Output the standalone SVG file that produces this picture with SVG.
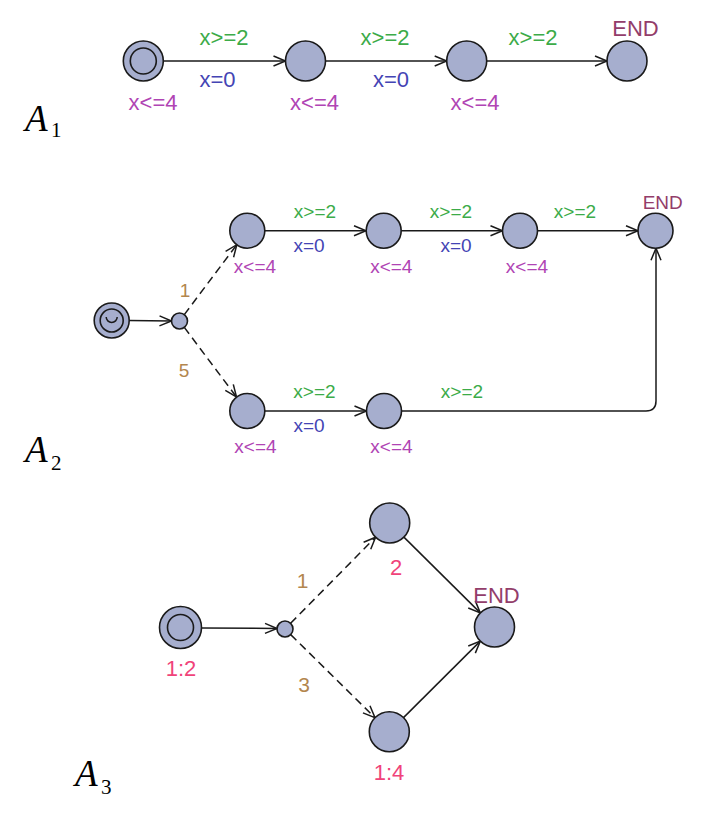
<svg xmlns="http://www.w3.org/2000/svg" width="703" height="819" viewBox="0 0 703 819">
<style>
.n{fill:#a6aece;stroke:#1a1a1a;stroke-width:1.6}
.e{fill:none;stroke:#1a1a1a;stroke-width:1.5}
.d{fill:none;stroke:#1a1a1a;stroke-width:1.5;stroke-dasharray:8 5}
text{font-family:"Liberation Sans",Arial,sans-serif;text-anchor:middle}
.g{fill:#3cab48}
.b{fill:#4444b4}
.p{fill:#b044b4}
.m{fill:#933d6a}
.t{fill:#b3864e}
.k{fill:#f0437a}
.s1{font-size:22px}
.s2{font-size:19px}
.s3{font-size:22px}
.lab{font-family:"Liberation Serif","Times New Roman",serif;text-anchor:start;fill:#000}
</style>
<defs>
<marker id="ar" markerUnits="userSpaceOnUse" markerWidth="16" markerHeight="14" refX="13" refY="6" orient="auto">
<path d="M1,1 L13,6 L1,11" fill="none" stroke="#1a1a1a" stroke-width="1.5"/>
</marker>
</defs>

<g id="connectors">
<line class="e" x1="163.3" y1="61" x2="285.5" y2="61" marker-end="url(#ar)"/>
<line class="e" x1="325.5" y1="61" x2="446.7" y2="61" marker-end="url(#ar)"/>
<line class="e" x1="486.7" y1="61" x2="607" y2="61" marker-end="url(#ar)"/>

<line class="e" x1="129.2" y1="320.5" x2="171.5" y2="321" marker-end="url(#ar)"/>
<line class="d" x1="184.3" y1="314.6" x2="236.8" y2="244.7" marker-end="url(#ar)"/>
<line class="d" x1="184.3" y1="327.4" x2="236.5" y2="397" marker-end="url(#ar)"/>
<line class="e" x1="265" y1="230.7" x2="366" y2="230.7" marker-end="url(#ar)"/>
<line class="e" x1="401.5" y1="230.7" x2="502.5" y2="230.7" marker-end="url(#ar)"/>
<line class="e" x1="537.5" y1="230.7" x2="638" y2="230.7" marker-end="url(#ar)"/>
<line class="e" x1="265" y1="411" x2="366.5" y2="411" marker-end="url(#ar)"/>
<path class="e" d="M401.5,411 L646,411 Q656,411 656,401 L656,248.2" marker-end="url(#ar)"/>

<line class="e" x1="201.5" y1="628" x2="277" y2="628.5" marker-end="url(#ar)"/>
<line class="d" x1="290.6" y1="623.3" x2="375.6" y2="537.2" marker-end="url(#ar)"/>
<line class="d" x1="290.7" y1="634.6" x2="375" y2="717.7" marker-end="url(#ar)"/>
<line class="e" x1="403.9" y1="537.1" x2="480.3" y2="612.9" marker-end="url(#ar)"/>
<line class="e" x1="403.5" y1="717.6" x2="480.3" y2="641.1" marker-end="url(#ar)"/>
</g>

<g id="edge-labels">
<text class="g s1" x="224" y="45">x&gt;=2</text>
<text class="b s1" x="217.5" y="87">x=0</text>
<text class="g s1" x="385" y="45">x&gt;=2</text>
<text class="b s1" x="391" y="87">x=0</text>
<text class="g s1" x="533" y="45">x&gt;=2</text>

<text class="t s2" x="185" y="297">1</text>
<text class="t s2" x="184" y="377">5</text>
<text class="g s2" x="315" y="217.5">x&gt;=2</text>
<text class="b s2" x="309" y="251.7">x=0</text>
<text class="g s2" x="451" y="217.5">x&gt;=2</text>
<text class="b s2" x="456" y="251.7">x=0</text>
<text class="g s2" x="575" y="217.5">x&gt;=2</text>
<text class="g s2" x="314.5" y="398">x&gt;=2</text>
<text class="b s2" x="309" y="432">x=0</text>
<text class="g s2" x="462" y="398">x&gt;=2</text>

<text class="t" x="302.5" y="588" font-size="21">1</text>
<text class="t" x="304" y="691.7" font-size="21">3</text>
</g>

<g id="A1-n0">
<circle class="n" cx="143.3" cy="61" r="20"/>
<circle class="n" cx="143.3" cy="61" r="13"/>
<text class="p s1" x="153" y="110">x&lt;=4</text>
</g>
<g id="A1-n1">
<circle class="n" cx="305.5" cy="61" r="20"/>
<text class="p s1" x="314.5" y="110">x&lt;=4</text>
</g>
<g id="A1-n2">
<circle class="n" cx="466.7" cy="61" r="20"/>
<text class="p s1" x="475" y="110">x&lt;=4</text>
</g>
<g id="A1-end">
<circle class="n" cx="627" cy="61" r="20"/>
<text class="m s1" x="635.5" y="36">END</text>
</g>

<g id="A2-init">
<circle class="n" cx="111.7" cy="320.5" r="17.5"/>
<circle class="n" cx="111.7" cy="320.5" r="11.5"/>
<path class="e" d="M106.2,317 A5.5,5.5 0 1 0 117.2,317"/>
</g>
<g id="A2-branch">
<circle class="n" cx="179.5" cy="321" r="8"/>
</g>
<g id="A2-t1">
<circle class="n" cx="247.3" cy="230.7" r="17.5"/>
<text class="p s2" x="255" y="272.7">x&lt;=4</text>
</g>
<g id="A2-t2">
<circle class="n" cx="383.7" cy="230.7" r="17.5"/>
<text class="p s2" x="391.3" y="272.7">x&lt;=4</text>
</g>
<g id="A2-t3">
<circle class="n" cx="520" cy="230.7" r="17.5"/>
<text class="p s2" x="527" y="272.7">x&lt;=4</text>
</g>
<g id="A2-end">
<circle class="n" cx="655.5" cy="230.7" r="17.5"/>
<text class="m s2" x="662.7" y="209.3">END</text>
</g>
<g id="A2-b1">
<circle class="n" cx="247.3" cy="411" r="17.5"/>
<text class="p s2" x="255.5" y="453">x&lt;=4</text>
</g>
<g id="A2-b2">
<circle class="n" cx="384" cy="411" r="17.5"/>
<text class="p s2" x="391.5" y="453">x&lt;=4</text>
</g>

<g id="A3-init">
<circle class="n" cx="180.5" cy="627.5" r="21"/>
<circle class="n" cx="180.5" cy="627.5" r="13"/>
<text class="k s3" x="181" y="676">1:2</text>
</g>
<g id="A3-branch">
<circle class="n" cx="285" cy="629" r="8"/>
</g>
<g id="A3-n2">
<circle class="n" cx="389.7" cy="523" r="20"/>
<text class="k s3" x="396" y="575">2</text>
</g>
<g id="A3-n14">
<circle class="n" cx="389.3" cy="731.7" r="20"/>
<text class="k s3" x="389" y="780">1:4</text>
</g>
<g id="A3-end">
<circle class="n" cx="494.5" cy="627" r="20"/>
<text class="m s3" x="496.5" y="603">END</text>
</g>

<g id="labels">
<text class="lab" x="25" y="131" font-size="37" font-style="italic">A</text>
<text class="lab" x="51" y="137" font-size="21">1</text>
<text class="lab" x="25" y="462" font-size="37" font-style="italic">A</text>
<text class="lab" x="51" y="470" font-size="21">2</text>
<text class="lab" x="75" y="786" font-size="37" font-style="italic">A</text>
<text class="lab" x="101" y="794" font-size="21">3</text>
</g>
</svg>
